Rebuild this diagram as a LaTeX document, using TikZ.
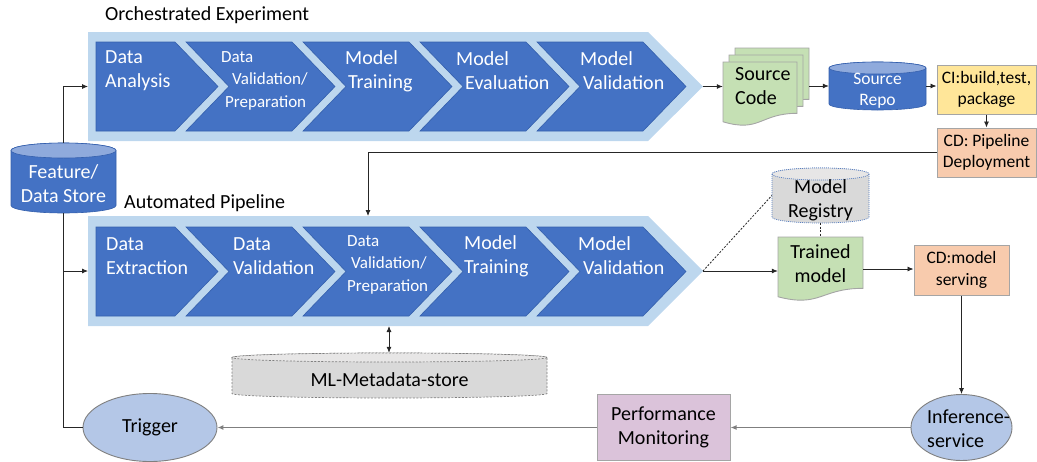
\documentclass[tikz,border=0pt]{standalone}
\usepackage{fontspec}
\setmainfont{Carlito}
\usetikzlibrary{arrows.meta,calc,shapes.geometric}

\definecolor{stepblue}{HTML}{4472C4}
\definecolor{stepedge}{HTML}{3560AD}
\definecolor{bandblue}{HTML}{BDD7EE}
\definecolor{cyltop}{HTML}{8FAADC}
\definecolor{ovalblue}{HTML}{B4C7E7}
\definecolor{docgreen}{HTML}{C5E0B4}
\definecolor{ciyellow}{HTML}{FFE699}
\definecolor{cdorange}{HTML}{F8CBAD}
\definecolor{monpurple}{HTML}{DBC3DA}
\definecolor{storegray}{HTML}{D9D9D9}
\definecolor{storetop}{HTML}{E7E6E6}
\definecolor{boxedge}{HTML}{A5A5A5}
\definecolor{lineblack}{HTML}{262626}
\definecolor{linegray}{HTML}{7F7F7F}
\definecolor{dotblue}{HTML}{5B80C0}

\newcommand\fsbig{\fontsize{20}{24}\selectfont}
\newcommand\fsmid{\fontsize{17.5}{21.5}\selectfont}
\newcommand\fssmall{\fontsize{17}{22.5}\selectfont}

% cylinder: left, right, top, bottom, end radius, body style, lid style
\newcommand\cyl[7]{%
  \pgfmathsetmacro\cylcx{(#1+#2)/2}%
  \pgfmathsetmacro\cylrx{(#2-#1)/2}%
  \path[#6] (#1,#3+#5) -- (#1,#4-#5)
    arc[start angle=180,end angle=0,x radius=\cylrx,y radius=#5]
    -- (#2,#3+#5)
    arc[start angle=0,end angle=-180,x radius=\cylrx,y radius=#5] -- cycle;
  \path[#7] (\cylcx,#3+#5) ellipse[x radius=\cylrx,y radius=#5];
}
% document sheet with a wavy lower edge: style, left, top, width, height
\newcommand\docshape[5]{%
  \path[#1] (#2,#3) -- (#2+#4,#3) -- (#2+#4,#3+0.802*#5)
    .. controls (#2+0.5*#4,#3+0.802*#5) and (#2+0.5*#4,#3+1.107*#5) .. (#2,#3+0.934*#5) -- cycle;
}

\begin{document}
\begin{tikzpicture}[x=1pt,y=-1pt,
  lbl/.style={font=\fsbig, text=white, align=left, inner sep=0pt, anchor=west},
  slbl/.style={font=\fssmall, text=white, align=left, inner sep=0pt, anchor=west},
  title/.style={font=\fsbig, inner sep=0pt, anchor=west},
  band/.style={fill=bandblue},
  chev/.style={fill=stepblue, draw=stepedge, line width=0.6pt},
  bounds/.style={inner sep=0pt, draw=none},
  box/.style={draw=boxedge, line width=1pt, inner sep=0pt, align=center},
  oval/.style={ellipse, fill=ovalblue, draw=linegray, line width=0.9pt, inner sep=0pt},
  doc/.style={fill=docgreen, draw=boxedge, line width=0.9pt},
  arr/.style={draw=lineblack, line width=0.8pt, -{Latex[length=6pt,width=5pt]}},
  garr/.style={draw=linegray, line width=1.2pt, -{Latex[length=6pt,width=5pt]}},
  dline/.style={draw=lineblack, line width=0.8pt, dash pattern=on 2pt off 1.5pt},
]
\useasboundingbox (0,0) rectangle (1037,461);

% ---------- orchestrated experiment ----------
\node[title] (oetitle) at (105,15) {Orchestrated Experiment};
\path[band] (88,32) -- (648,32) -- (703,86.5) -- (648,141) -- (88,141) -- cycle;
\coordinate (oeleft) at (88,86.5);
\coordinate (oetip) at (703,86.5);
\filldraw[chev] (96,42) -- (175,42) -- (218,86.5) -- (175,131) -- (96,131) -- cycle;
\foreach \xl in {186,303,420,537}{
  \filldraw[chev] (\xl,42) -- (\xl+106,42) -- (\xl+149,86.5) -- (\xl+106,131) -- (\xl,131) -- (\xl+43,86.5) -- cycle;
}
\node[lbl]  (oe1) at (105,71) {Data\\Analysis};
\node[slbl] (oe2) at (221,80.5) {Data\\\hspace*{11pt}Validation/\\\hspace*{4pt}Preparation};
\node[lbl]  (oe3) at (345,71) {Model\\\hspace*{3pt}Training};
\node[lbl]  (oe4) at (456,71) {Model\\\hspace*{9pt}Evaluation};
\node[lbl]  (oe5) at (580,71) {Model\\\hspace*{3pt}Validation};

% ---------- automated pipeline ----------
\node[title] (aptitle) at (124,203) {Automated Pipeline};
\path[band] (88,216) -- (648,216) -- (703,271) -- (648,326) -- (88,326) -- cycle;
\coordinate (apleft) at (88,271);
\coordinate (aptip) at (703,271);
\coordinate (aptop) at (368,216);
\coordinate (apbot) at (389,326);
\filldraw[chev] (96,227) -- (175,227) -- (218,271.5) -- (175,316) -- (96,316) -- cycle;
\foreach \xl in {186,303,420,537}{
  \filldraw[chev] (\xl,227) -- (\xl+106,227) -- (\xl+149,271.5) -- (\xl+106,316) -- (\xl,316) -- (\xl+43,271.5) -- cycle;
}
\node[lbl]  (ap1) at (106,256) {Data\\Extraction};
\node[lbl]  (ap2) at (233,256) {Data\\Validation};
\node[slbl] (ap3) at (347,264.5) {Data\\\hspace*{4pt}Validation/\\Preparation};
\node[lbl]  (ap4) at (464,256) {Model\\Training};
\node[lbl]  (ap5) at (578,256) {Model\\\hspace*{5pt}Validation};

% ---------- stores ----------
\cyl{11}{116}{143}{213}{7.5}{fill=stepblue, draw=stepedge, line width=0.6pt}{fill=cyltop, draw=stepedge, line width=0.6pt}
\node[bounds, minimum width=105, minimum height=70] (fds) at (63.5,178) {};
\node[font=\fsbig, text=white, align=center, inner sep=0pt] (fdstxt) at (63.5,183.5) {Feature/\\Data Store};

\cyl{829}{926}{62}{110}{6}{fill=stepblue, draw=stepedge, line width=0.6pt}{fill=cyltop, draw=stepedge, line width=0.6pt}
\node[bounds, minimum width=97, minimum height=48] (repo) at (877.5,86) {};
\node[font=\fsmid, text=white, align=center, inner sep=0pt] (repotxt) at (877.5,90.5) {Source\\Repo};

\cyl{772}{869}{168}{223}{6}{fill=storegray, draw=dotblue, line width=0.7pt, dash pattern=on 1pt off 1pt}{fill=storetop, draw=dotblue, line width=0.7pt, dash pattern=on 1pt off 1pt}
\node[bounds, minimum width=97, minimum height=55] (reg) at (820.5,195.5) {};
\node[font=\fsbig, align=center, inner sep=0pt] (regtxt) at (820.5,200.5) {Model\\Registry};

\cyl{232}{547}{353}{398}{4.5}{fill=storegray, draw=linegray, line width=0.7pt, dash pattern=on 2pt off 1.5pt}{fill=storetop, draw=linegray, line width=0.7pt, dash pattern=on 2pt off 1.5pt}
\node[bounds, minimum width=315, minimum height=45] (meta) at (389.5,375.5) {};
\node[font=\fsbig, inner sep=0pt] (metatxt) at (389.5,380) {ML-Metadata-store};

% ---------- artefacts ----------
\docshape{doc}{735}{48}{74}{64}
\docshape{doc}{729}{55}{74}{64}
\docshape{doc}{723}{62}{74}{64}
\node[bounds, minimum width=86, minimum height=76] (sc) at (766,86) {};
\node[font=\fsbig, align=left, inner sep=0pt, anchor=west] (sctxt) at (735,86.5) {Source\\Code};

\docshape{doc}{778}{237}{85}{64}
\node[bounds, minimum width=85, minimum height=64] (tm) at (820.5,269) {};
\node[font=\fsbig, align=center, inner sep=0pt] (tmtxt) at (820.5,264) {Trained\\model};

% ---------- CI / CD and serving ----------
\node[box, fill=ciyellow, minimum width=99, minimum height=49, font=\fsmid] (ci) at (986.5,89.5) {CI:build,test,\\package};
\node[box, fill=cdorange, minimum width=99, minimum height=49, font=\fsmid] (cdp) at (986.5,152.5) {CD: Pipeline\\Deployment};
\node[box, fill=cdorange, minimum width=95, minimum height=50, font=\fsmid] (cds) at (961.5,270) {CD:model\\serving};
\node[box, fill=monpurple, minimum width=133, minimum height=66, font=\fsbig] (pm) at (663.5,427.5) {Performance\\Monitoring};
\node[oval, minimum width=101, minimum height=66] (inf) at (961.5,427.5) {};
\node[font=\fsbig, align=left, inner sep=0pt, anchor=west] (inftxt) at (927,429) {Inference-\\service};
\node[oval, minimum width=134, minimum height=68, font=\fsbig] (trg) at (150,427.5) {Trigger};

% ---------- connectors ----------
\draw[arr] (fds.north) |- (oeleft);
\draw[draw=lineblack, line width=0.8pt] (fds.south) |- (trg.west);
\draw[arr] (fds.south |- apleft) -- (apleft);
\draw[arr] (oetip) -- (oetip -| sc.west);
\draw[arr] (sc.east) -- (sc.east -| repo.west);
\draw[arr] (repo.east) -- (repo.east -| ci.west);
\draw[arr] (ci.south) -- (cdp.north);
\draw[arr] (cdp.west) -| (aptop);
\draw[arr] (aptip) -- (aptip -| tm.west);
\draw[dline] (aptip) -- (reg.west);
\draw[dline] (reg.south) -- (tm.north);
\draw[arr] (tm.east) -- (tm.east -| cds.west);
\draw[arr] (cds.south) -- (cds.south |- inf.north);
\draw[garr] (inf.west) -- (pm.east);
\draw[garr] (pm.west) -- (trg.east);
\draw[arr, {Latex[length=6pt,width=5pt]}-{Latex[length=6pt,width=5pt]}] (apbot) -- (apbot |- meta.north);
\end{tikzpicture}
\end{document}
